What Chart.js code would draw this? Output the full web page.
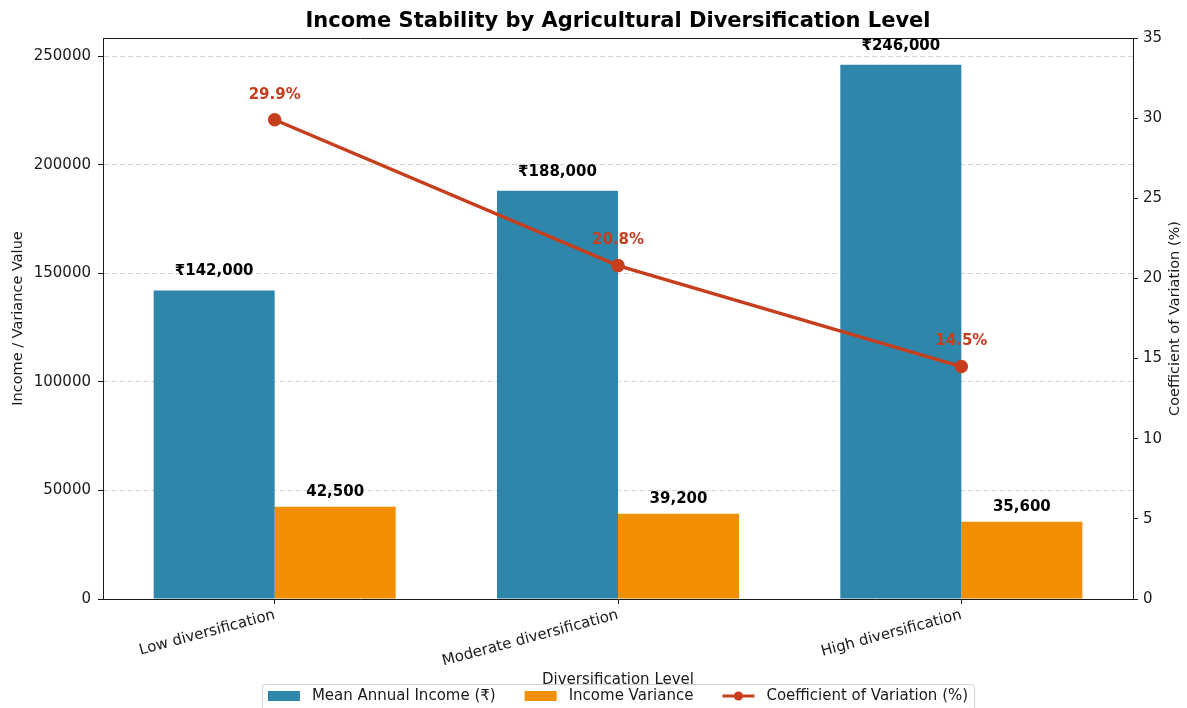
<!DOCTYPE html>
<html>
<head>
<meta charset="utf-8">
<script src="https://cdn.jsdelivr.net/npm/chart.js@4.4.1/dist/chart.umd.min.js"></script>
<style>
  html, body { margin: 0; padding: 0; background: #fff; }
  #wrap { width: 1187px; height: 708px; }
</style>
</head>
<body>
<div id="wrap"><canvas id="chart" width="1187" height="708"></canvas></div>
<script>
// ============================================================
// Income stability — bars (income / variance) + CV line
// ============================================================

const categories = ['Low diversification', 'Moderate diversification', 'High diversification'];
const meanIncome = [142000, 188000, 246000];
const incomeVariance = [42500, 39200, 35600];
const cvPercent = [29.9, 20.8, 14.5];
const incomeTicks = [0, 50000, 100000, 150000, 200000, 250000];
const cvTicks = [0, 5, 10, 15, 20, 25, 30, 35];

const BLUE = '#2E86AB';
const ORANGE = '#F18F01';
const RED = '#C73E1D';
const INK = '#1a1a1a';
const FONT = "'DejaVu Sans', sans-serif";

Chart.defaults.font.family = FONT;
Chart.defaults.color = INK;

// title, top spine, right axis title, value labels and the legend box
const decor = {
  id: 'decor',
  afterDraw(chart) {
    const { ctx, chartArea: a } = chart;
    ctx.save();

    // top spine
    ctx.strokeStyle = INK;
    ctx.lineWidth = 1;
    ctx.beginPath();
    ctx.moveTo(a.left, a.top + 0.5);
    ctx.lineTo(a.right, a.top + 0.5);
    ctx.stroke();

    // title
    ctx.fillStyle = '#000';
    ctx.font = `bold 21px ${FONT}`;
    ctx.textAlign = 'center';
    ctx.textBaseline = 'middle';
    ctx.fillText('Income Stability by Agricultural Diversification Level', (a.left + a.right) / 2, 22);

    // right axis title, reading bottom to top like matplotlib
    ctx.save();
    ctx.translate(1175, (a.top + a.bottom) / 2);
    ctx.rotate(-Math.PI / 2);
    ctx.font = `14.5px ${FONT}`;
    ctx.fillStyle = INK;
    ctx.fillText('Coefficient of Variation (%)', 0, 0);
    ctx.restore();

    // bar labels
    ctx.fillStyle = '#000';
    ctx.font = `bold 15px ${FONT}`;
    chart.getDatasetMeta(0).data.forEach((el, i) => {
      ctx.fillText('₹' + meanIncome[i].toLocaleString('en-US'), el.x, el.y - 19);
    });
    chart.getDatasetMeta(1).data.forEach((el, i) => {
      ctx.fillText(incomeVariance[i].toLocaleString('en-US'), el.x, el.y - 15);
    });
    ctx.fillStyle = RED;
    chart.getDatasetMeta(2).data.forEach((el, i) => {
      ctx.fillText(cvPercent[i].toFixed(1) + '%', el.x, el.y - 25);
    });

    // legend
    ctx.font = `15px ${FONT}`;
    const items = chart.data.datasets.map((d) => ({ label: d.label, color: d.backgroundColor, line: d.type === 'line' }));
    const patchW = 32, gapText = 12, gapItem = 29;
    const widths = items.map((it) => patchW + gapText + ctx.measureText(it.label).width);
    const total = widths.reduce((s, w) => s + w, 0) + gapItem * (items.length - 1);
    const boxX = (a.left + a.right) / 2 - total / 2 - 6;
    const boxY = 684;
    ctx.fillStyle = 'rgba(255,255,255,0.85)';
    ctx.strokeStyle = '#d0d0d0';
    ctx.lineWidth = 1;
    ctx.beginPath();
    ctx.roundRect(boxX + 0.5, boxY + 0.5, total + 12, 40, 3);
    ctx.fill();
    ctx.stroke();

    let x = boxX + 6;
    const cy = 696;
    items.forEach((it, i) => {
      if (it.line) {
        ctx.strokeStyle = it.color;
        ctx.lineWidth = 3;
        ctx.beginPath();
        ctx.moveTo(x, cy);
        ctx.lineTo(x + patchW, cy);
        ctx.stroke();
        ctx.fillStyle = it.color;
        ctx.beginPath();
        ctx.arc(x + patchW / 2, cy, 4.5, 0, Math.PI * 2);
        ctx.fill();
      } else {
        ctx.fillStyle = it.color;
        ctx.fillRect(x, cy - 5, patchW, 10);
      }
      ctx.fillStyle = INK;
      ctx.textAlign = 'left';
      ctx.fillText(it.label, x + patchW + gapText, cy);
      x += widths[i] + gapItem;
    });

    ctx.restore();
  },
};

const tickStyle = { font: { size: 15 }, color: INK };

new Chart(document.getElementById('chart'), {
  data: {
    labels: categories,
    datasets: [
      { type: 'bar', label: 'Mean Annual Income (₹)', data: meanIncome, backgroundColor: BLUE,
        yAxisID: 'y', order: 2, categoryPercentage: 0.705, barPercentage: 1 },
      { type: 'bar', label: 'Income Variance', data: incomeVariance, backgroundColor: ORANGE,
        yAxisID: 'y', order: 2, categoryPercentage: 0.705, barPercentage: 1 },
      { type: 'line', label: 'Coefficient of Variation (%)', data: cvPercent, borderColor: RED,
        backgroundColor: RED, borderWidth: 3.5, pointRadius: 5, pointHoverRadius: 5,
        yAxisID: 'y1', order: 0, tension: 0 },
    ],
  },
  options: {
    responsive: false,
    animation: false,
    devicePixelRatio: 1,
    layout: { padding: { top: 38, left: 0, right: 0, bottom: 0 } },
    plugins: { legend: { display: false }, title: { display: false }, tooltip: { enabled: false } },
    scales: {
      x: {
        type: 'category',
        offset: true,
        grid: { drawOnChartArea: false, offset: false, tickLength: 5, tickColor: INK },
        border: { color: INK },
        ticks: { ...tickStyle, minRotation: 15, maxRotation: 15, padding: 2, autoSkip: false },
        title: { display: true, text: 'Diversification Level', font: { size: 15 }, color: INK, padding: { bottom: 19 } },
        afterFit: (s) => { s.height = 109; },
      },
      y: {
        position: 'left',
        min: 0,
        max: 258300,
        afterBuildTicks: (s) => { s.ticks = incomeTicks.map((v) => ({ value: v })); },
        ticks: { ...tickStyle, padding: 7, callback: (v) => String(v) },
        grid: { color: 'rgba(0,0,0,0.17)', tickColor: INK, tickLength: 5 },
        border: { color: INK, dash: [5, 3] },
        title: { display: true, text: 'Income / Variance Value', font: { size: 14.5 }, color: INK, padding: { top: 10 } },
        afterFit: (s) => { s.width = 103; },
      },
      y1: {
        position: 'right',
        min: 0,
        max: 35,
        afterBuildTicks: (s) => { s.ticks = cvTicks.map((v) => ({ value: v })); },
        ticks: { ...tickStyle, padding: 5 },
        grid: { drawOnChartArea: false, tickColor: INK, tickLength: 5 },
        border: { color: INK },
        title: { display: false },
        afterFit: (s) => { s.width = 54; },
      },
    },
  },
  plugins: [decor],
});
</script>
</body>
</html>
